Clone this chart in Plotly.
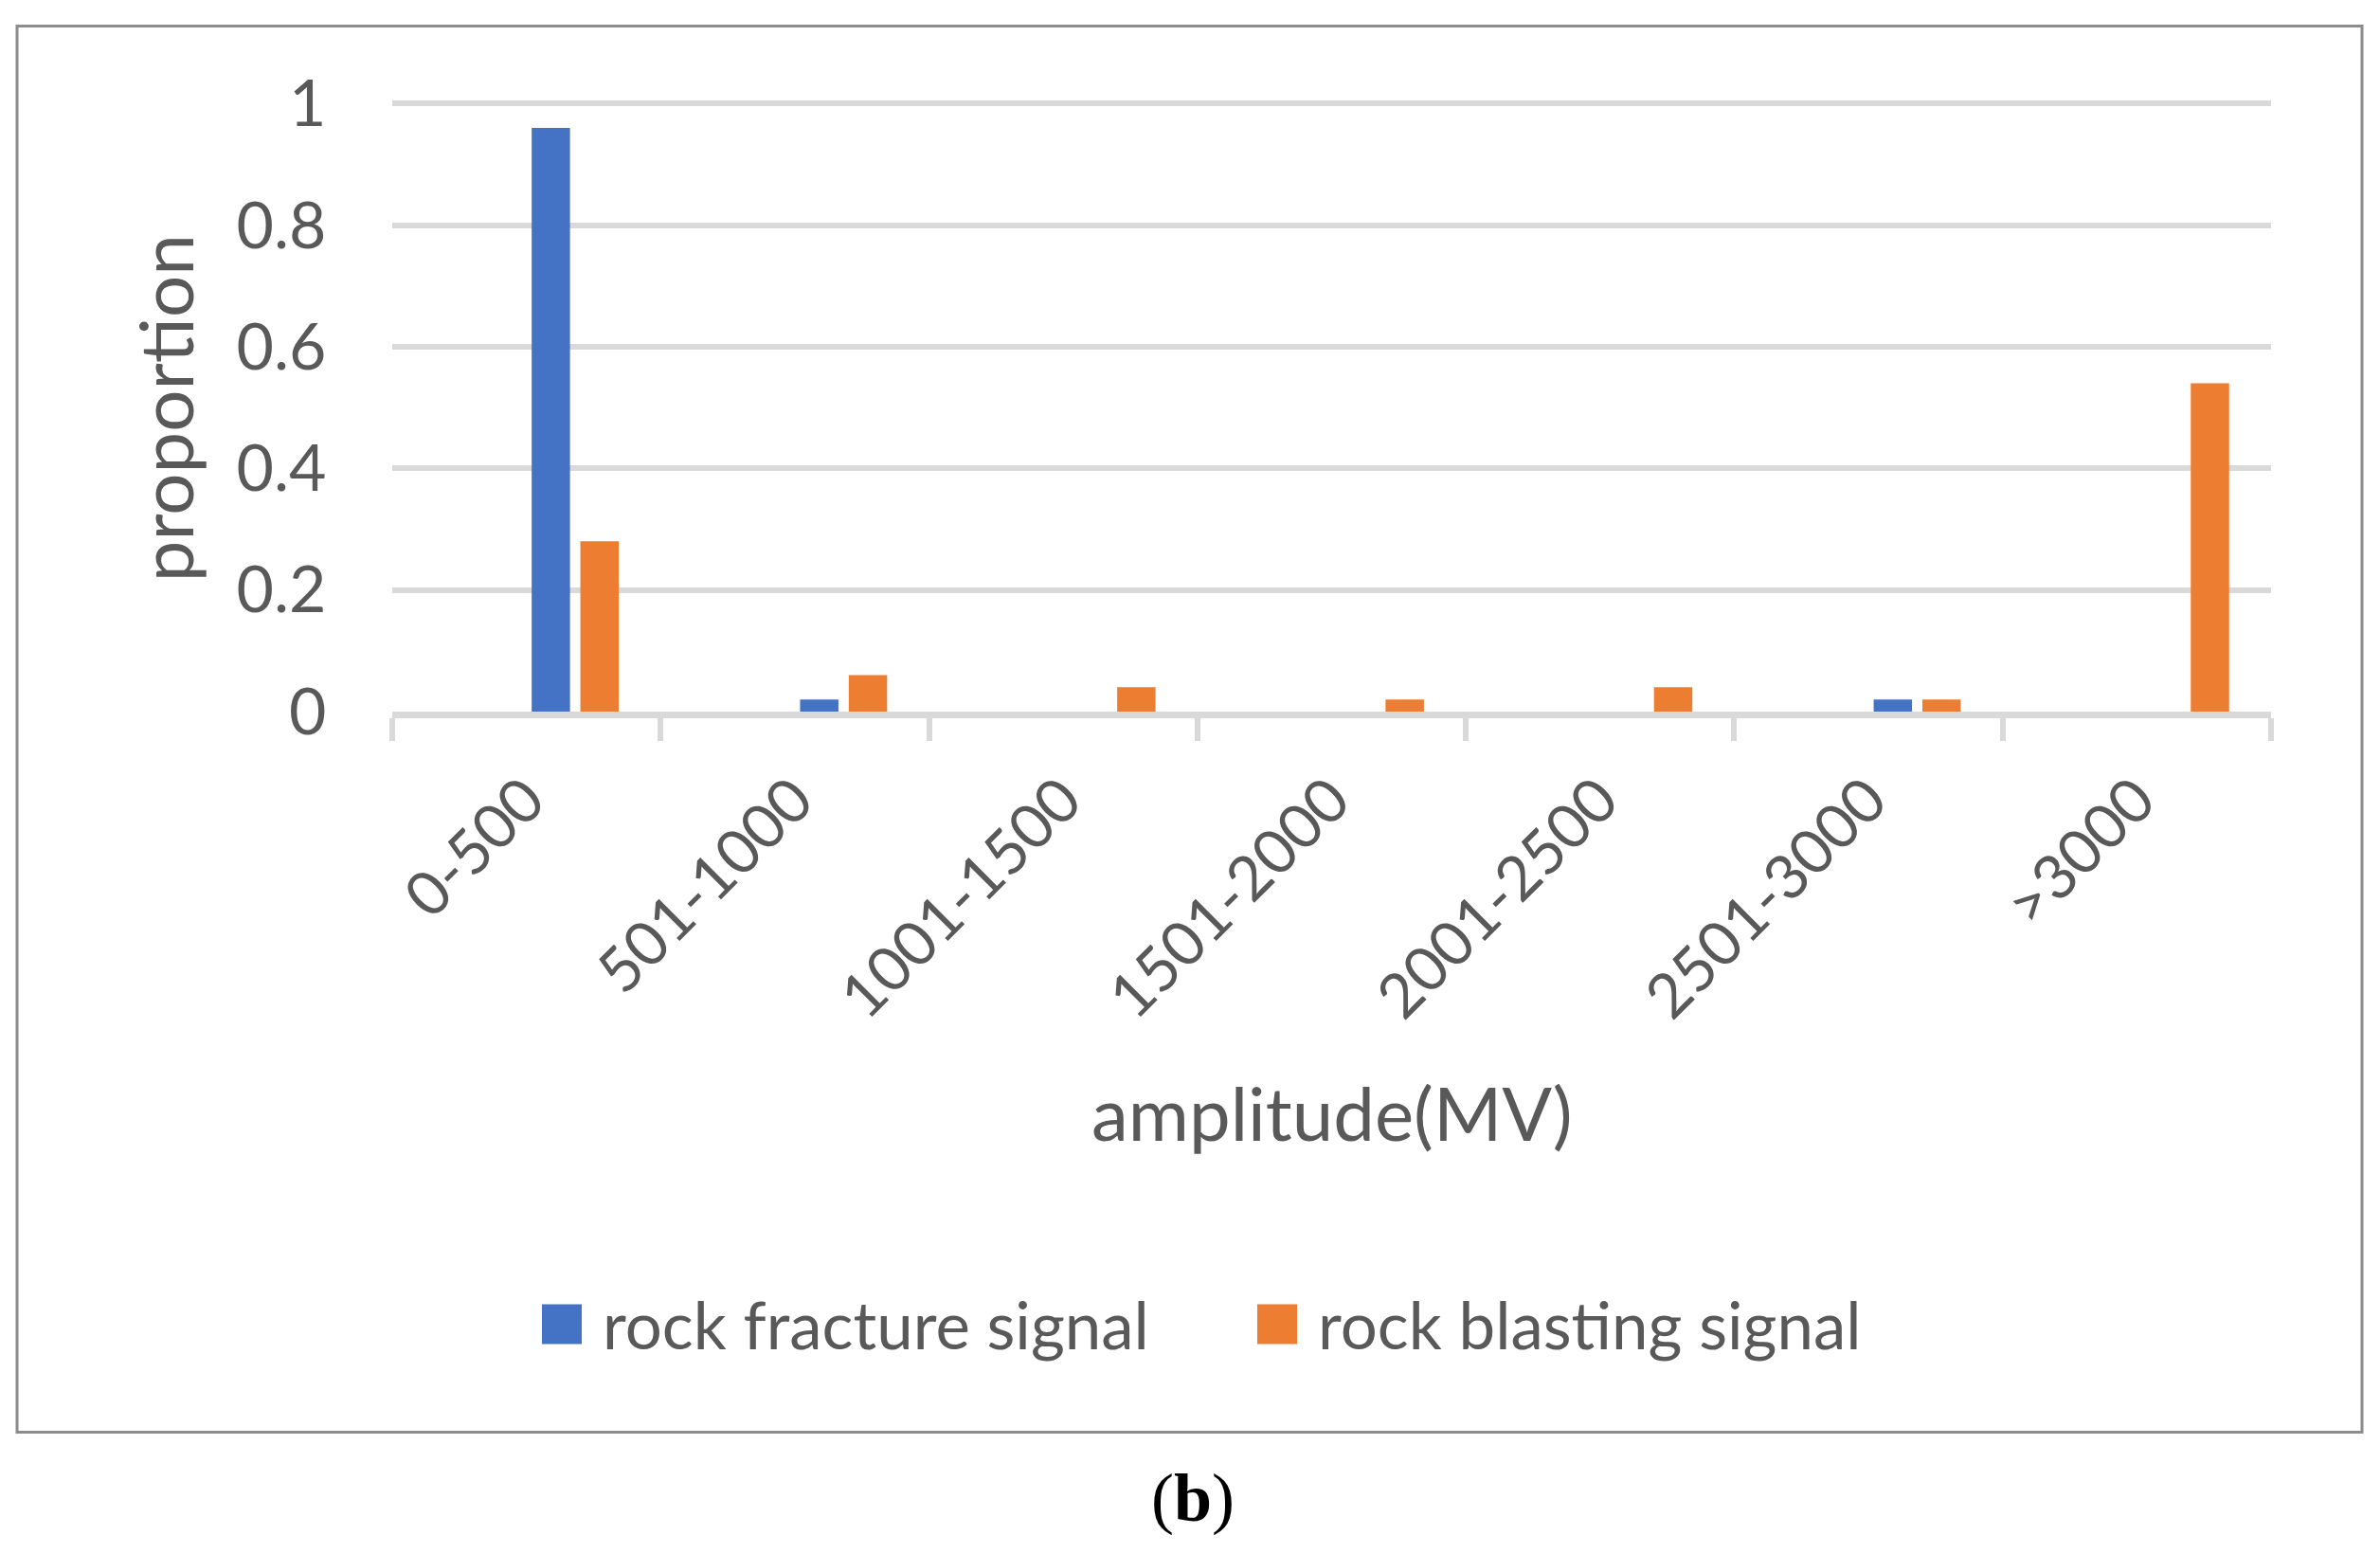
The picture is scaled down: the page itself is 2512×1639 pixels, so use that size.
import plotly.graph_objects as go

categories = ["0-500", "501-1000", "1001-1500", "1501-2000", "2001-2500", "2501-3000", ">3000"]
fracture = [0.96, 0.02, 0, 0, 0, 0.02, 0]
blasting = [0.28, 0.06, 0.04, 0.02, 0.04, 0.02, 0.54]
series_names = ["rock fracture signal", "rock blasting signal"]
colors = ["#4472C4", "#ED7D31"]
y_ticks = [0, 0.2, 0.4, 0.6, 0.8, 1]
y_ticktext = ["0", "0.2", "0.4", "0.6", "0.8", "1"]

OFF = 8  # page body margin
W, H = 2512 - 2 * OFF, 1639 - 2 * OFF
# desired page-pixel positions of plot area
L, R, Y1, B = 414, 2397, 109, 751
YMAX = 1.01
T = B - (B - Y1) * YMAX
FONT = "Lato"
GREY = "#595959"


def px(x):
    return (x - L) / (R - L)


def py(y):
    return (B - y) / (B - T)


fig = go.Figure()
bw = 1 / 7
offsets = [0.0195, 0.2009]
for name, vals, col, off in zip(series_names, [fracture, blasting], colors, offsets):
    fig.add_trace(go.Bar(x=categories, y=vals, name=name, marker_color=col,
                         marker_line_width=0, width=bw, offset=off, showlegend=False))

fig.update_layout(
    width=W, height=H,
    margin=dict(l=L - OFF, r=W - (R - OFF), t=T - OFF, b=H - (B - OFF), pad=0),
    paper_bgcolor="white", plot_bgcolor="white",
    barmode="overlay",
    font=dict(family=FONT, color=GREY),
    xaxis=dict(
        type="category", range=[-0.5, 6.5], showgrid=False,
        showline=True, linecolor="#D9D9D9", linewidth=7,
        ticks="outside", tickson="boundaries", ticklen=24, tickwidth=6, tickcolor="#D9D9D9",
        tickangle=-45, tickfont=dict(size=65, family=FONT, color=GREY),
        ticklabelstandoff=22,
        zeroline=False,
    ),
    yaxis=dict(
        range=[0, YMAX], tickvals=y_ticks, ticktext=y_ticktext,
        showgrid=True, gridcolor="#D9D9D9", gridwidth=6,
        showline=False, zeroline=False,
        ticks="outside", ticklen=55, tickcolor="rgba(0,0,0,0)",
        tickfont=dict(size=68, family=FONT, color=GREY),
    ),
)

annotations = [
    dict(text="proportion", x=px(174), y=py(431), xref="paper", yref="paper",
         textangle=-90, showarrow=False, font=dict(size=78, family=FONT, color=GREY),
         xanchor="center", yanchor="middle"),
    dict(text="amplitude(MV)", x=px(1405), y=py(1174), xref="paper", yref="paper",
         showarrow=False, font=dict(size=78, family=FONT, color=GREY),
         xanchor="center", yanchor="middle"),
    dict(text="(<b>b</b>)", x=px(1259), y=py(1582), xref="paper", yref="paper",
         showarrow=False, font=dict(size=72, family="Liberation Serif", color="black"),
         xanchor="center", yanchor="middle"),
]
# legend drawn manually
leg_x = [572, 1327]
leg_text_x = [634, 1389]
for name, col, lx, tx in zip(series_names, colors, leg_x, leg_text_x):
    fig.add_shape(type="rect", xref="paper", yref="paper",
                  x0=px(lx), x1=px(lx + 42), y0=py(1377), y1=py(1419),
                  fillcolor=col, line_width=0)
    annotations.append(dict(text=name, x=px(tx), y=py(1398), xref="paper", yref="paper",
                            showarrow=False, xanchor="left", yanchor="middle",
                            font=dict(size=69, family=FONT, color=GREY)))

# outer border
fig.add_shape(type="rect", xref="paper", yref="paper",
              x0=px(18), x1=px(2493), y0=py(27), y1=py(1512),
              line=dict(color="#8C8C8C", width=3), fillcolor="rgba(0,0,0,0)", layer="below")

fig.update_layout(annotations=annotations)
fig.write_html("out.html")
